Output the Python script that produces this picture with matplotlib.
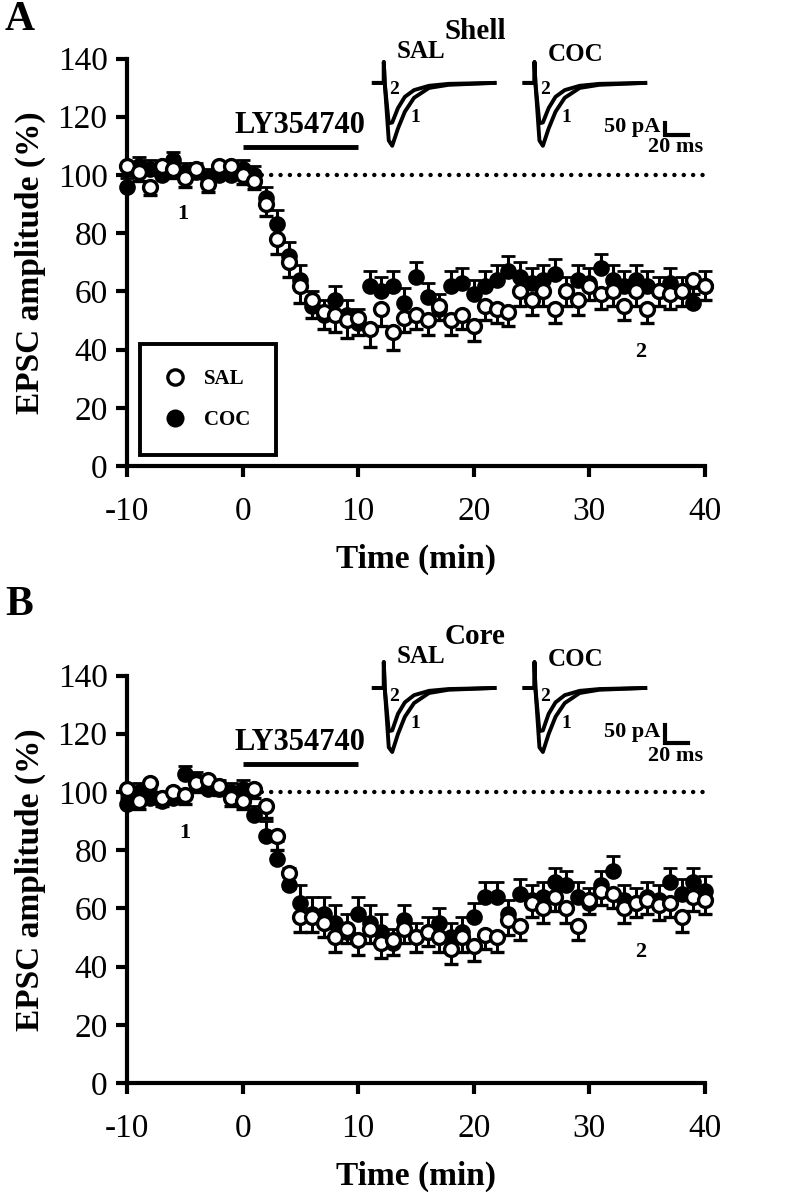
import matplotlib
matplotlib.use('Agg')
import matplotlib.pyplot as plt
from matplotlib.lines import Line2D

plt.rcParams['font.family'] = ['Liberation Serif', 'DejaVu Serif']
plt.rcParams['axes.unicode_minus'] = False

# time points (min) relative to drug onset
times = [-10, -9, -8, -7, -6, -5, -4, -3, -2, -1,
         0, 1, 2, 3, 4, 5, 6, 7, 8, 9,
         10, 11, 12, 13, 14, 15, 16, 17, 18, 19,
         20, 21, 22, 23, 24, 25, 26, 27, 28, 29,
         30, 31, 32, 33, 34, 35, 36, 37, 38, 39, 40]

# Shell, EPSC amplitude (% of baseline)
shell_sal = [103, 101, 96, 103, 102, 99, 102, 97, 103, 103,
             100, 98, 90, 78, 70, 62, 57, 53, 52, 50,
             51, 47, 54, 46, 51, 52, 50, 55, 50, 52,
             48, 55, 54, 53, 60, 57, 60, 54, 60, 57,
             62, 59, 60, 55, 60, 54, 60, 59, 60, 64, 62]
shell_sal_err = [3, 3, 3, 3, 3, 3, 3, 3, 3, 3,
                 3, 3, 4, 5, 5, 6, 6, 6, 6, 6,
                 6, 6, 6, 6, 5, 5, 5, 5, 5, 5,
                 5, 5, 5, 5, 5, 5, 5, 5, 5, 5,
                 5, 5, 5, 5, 5, 5, 5, 5, 5, 5, 5]
shell_coc = [96, 103, 102, 100, 105, 101, 101, 99, 100, 100,
             102, 100, 92, 83, 72, 64, 55, 52, 57, 52,
             49, 62, 60, 62, 56, 65, 58, 54, 62, 63,
             59, 62, 64, 67, 65, 63, 64, 66, 60, 64,
             63, 68, 64, 62, 64, 62, 60, 63, 60, 56, 62]
shell_coc_err = [3, 3, 3, 3, 3, 3, 3, 3, 3, 3,
                 3, 3, 4, 5, 5, 5, 5, 5, 5, 5,
                 5, 5, 5, 5, 5, 5, 5, 5, 5, 5,
                 5, 5, 5, 5, 5, 5, 5, 5, 5, 5,
                 5, 5, 5, 5, 5, 5, 5, 5, 5, 5, 5]

# Core, EPSC amplitude (% of baseline)
core_sal = [101, 97, 103, 98, 100, 99, 103, 104, 102, 98,
            97, 101, 95, 85, 72, 57, 57, 55, 50, 53,
            49, 53, 48, 49, 53, 50, 52, 50, 46, 50,
            47, 51, 50, 56, 54, 62, 60, 64, 60, 54,
            63, 66, 65, 60, 62, 63, 61, 62, 57, 64, 63]
core_sal_err = [3, 3, 3, 3, 3, 3, 3, 3, 3, 3,
                3, 3, 4, 5, 5, 5, 5, 5, 5, 5,
                5, 5, 5, 5, 5, 5, 5, 5, 5, 5,
                5, 5, 5, 5, 5, 5, 5, 5, 5, 5,
                5, 5, 5, 5, 5, 5, 5, 5, 5, 5, 5]
core_coc = [96, 100, 98, 97, 98, 106, 104, 101, 101, 100,
            101, 92, 85, 77, 68, 62, 58, 58, 55, 52,
            58, 55, 52, 48, 56, 50, 52, 55, 50, 52,
            57, 64, 64, 58, 65, 63, 64, 69, 68, 64,
            62, 68, 73, 63, 62, 64, 63, 69, 65, 69, 66]
core_coc_err = [3, 3, 3, 3, 3, 3, 3, 3, 3, 3,
                3, 3, 5, 6, 6, 6, 6, 6, 6, 6,
                6, 6, 6, 5, 5, 5, 5, 5, 5, 5,
                5, 5, 5, 5, 5, 5, 5, 5, 5, 5,
                5, 5, 5, 5, 5, 5, 5, 5, 5, 5, 5]

baseline_level = 100
drug_start, drug_end = 0, 10
drug_label = 'LY354740'

# example EPSC traces (ms, pA), 1 = baseline, 2 = after LY354740
trace_t = [0, 8.7, 8.7, 9.5, 13, 16, 21, 27, 35, 48, 65, 105]
shell_trace_1 = [0, 0, 87, 0, -240, -262, -190, -120, -62, -21, -8, 0]
shell_trace_2 = [0, 0, 87, 0, -168, -165, -105, -58, -30, -12, -4, 0]
core_trace_1 = [0, 0, 72, 0, -165, -178, -128, -80, -42, -14, -5, 0]
core_trace_2 = [0, 0, 72, 0, -120, -118, -72, -40, -20, -8, -3, 0]
scale_pa = 50
scale_ms = 20

W, H = 790, 1200
fig = plt.figure(figsize=(W / 100, H / 100), dpi=100)


def px_rect(x0, y0, x1, y1):
    # pixel box (top-left origin) -> figure fraction rect
    return [x0 / W, 1 - y1 / H, (x1 - x0) / W, (y1 - y0) / H]


def draw_panel(top, sal, sal_err, coc, coc_err, label_1, label_2, legend=False):
    ax = fig.add_axes(px_rect(127, top, 705, top + 407.5))
    zeros = [0] * len(times)

    eb = ax.errorbar(times, coc, yerr=[zeros, coc_err], fmt='o', ms=10,
                     mfc='black', mec='black', mew=2, ecolor='black',
                     elinewidth=2.2, capsize=5, capthick=2.5, zorder=3)
    eb2 = ax.errorbar(times, sal, yerr=[sal_err, zeros], fmt='o', ms=10,
                      mfc='white', mec='black', mew=2.4, ecolor='black',
                      elinewidth=2.2, capsize=5, capthick=2.5, zorder=4)
    for container in (eb, eb2):
        for art in container.get_children():
            art.set_clip_on(False)

    ax.plot([drug_start, 40], [baseline_level, baseline_level], color='black',
            lw=3.2, linestyle=(0, (0.01, 2.1)), dash_capstyle='round', zorder=1)

    # drug application bar
    ax.plot([drug_start, drug_end], [109.6, 109.6], color='black', lw=3.5,
            solid_capstyle='butt')
    ax.text(5, 112, drug_label, ha='center', va='bottom', fontsize=22,
            fontweight='bold')

    ax.text(label_1[0], label_1[1], '1', ha='center', va='center', fontsize=16,
            fontweight='bold')
    ax.text(label_2[0], label_2[1], '2', ha='center', va='center', fontsize=16,
            fontweight='bold')

    ax.set_xlim(-10, 40)
    ax.set_ylim(0, 140)
    ax.set_xticks([-10, 0, 10, 20, 30, 40])
    ax.set_yticks([0, 20, 40, 60, 80, 100, 120, 140])
    for side in ('top', 'right'):
        ax.spines[side].set_visible(False)
    for side in ('left', 'bottom'):
        ax.spines[side].set_linewidth(3)
    ax.tick_params(direction='out', length=8, width=3, labelsize=24, pad=6)
    ax.tick_params(axis='x', pad=14)
    ax.set_xlabel('Time (min)', fontsize=24, fontweight='bold', labelpad=12)
    ax.set_ylabel('EPSC amplitude (%)', fontsize=24, fontweight='bold',
                  labelpad=8)

    if legend:
        handles = [Line2D([], [], marker='o', ls='none', mfc='white', mec='black',
                          mew=2.4, ms=11),
                   Line2D([], [], marker='o', ls='none', mfc='black', mec='black',
                          mew=2, ms=11)]
        leg = ax.legend(handles, ['SAL', 'COC'], loc='lower left',
                        bbox_to_anchor=(0.022, 0.027), frameon=True,
                        fancybox=False, edgecolor='black', framealpha=1,
                        borderaxespad=0, prop={'weight': 'bold', 'size': 15},
                        handletextpad=0.9, borderpad=1.2, labelspacing=1.0,
                        handlelength=1.0)
        leg.get_frame().set_linewidth(2.8)
    return ax


def draw_traces(top, ylim, title, trace_1, trace_2, scale_top, nums_y):
    ins = fig.add_axes(px_rect(360, top, 710, top + 145))
    ins.set_xlim(0, 304.3)
    ins.set_ylim(*ylim)
    ins.axis('off')
    for offset, name, name_y in ((12, 'SAL', 0.78), (143, 'COC', 0.76)):
        tt = [t + offset for t in trace_t]
        ins.plot(tt, trace_1, color='black', lw=2.8, solid_joinstyle='round')
        ins.plot(tt, trace_2, color='black', lw=2.8, solid_joinstyle='round')
        ins.text(offset + 20, name_y, name, transform=ins.get_xaxis_transform(),
                 ha='left', va='center', fontsize=18, fontweight='bold')
        ins.text(offset + 18, nums_y[0], '2', ha='center', va='center',
                 fontsize=14, fontweight='bold')
        ins.text(offset + 36, nums_y[1], '1', ha='center', va='center',
                 fontsize=14, fontweight='bold')
    ins.text(100, 0.92, title, transform=ins.get_xaxis_transform(), ha='center',
             va='center', fontsize=21, fontweight='bold')
    # scale bar
    ins.plot([265, 265, 265 + scale_ms], [scale_top, scale_top - scale_pa,
                                           scale_top - scale_pa],
             color='black', lw=3, solid_joinstyle='miter', clip_on=False)
    ins.text(261, scale_top - 18, f'{scale_pa} pA', ha='right', va='center',
             fontsize=16, fontweight='bold')
    ins.text(274, scale_top - scale_pa - 9, f'{scale_ms} ms', ha='center',
             va='top', fontsize=16, fontweight='bold')


draw_panel(58.5, shell_sal, shell_sal_err, shell_coc, shell_coc_err,
           (-5.2, 86.5), (34.4, 39), legend=True)
draw_traces(20, (-342, 262), 'Shell', shell_trace_1, shell_trace_2, -167,
            (-29, -146))

draw_panel(675.5, core_sal, core_sal_err, core_coc, core_coc_err,
           (-5.0, 86), (34.4, 45))
draw_traces(625, (-228, 175), 'Core', core_trace_1, core_trace_2, -103,
            (-25, -100))

fig.text(5 / W, 1 - 20 / H, 'A', fontsize=30, fontweight='bold', va='center')
fig.text(5 / W, 1 - 605 / H, 'B', fontsize=30, fontweight='bold', va='center')

fig.savefig('out.png', dpi=100, facecolor='white')
